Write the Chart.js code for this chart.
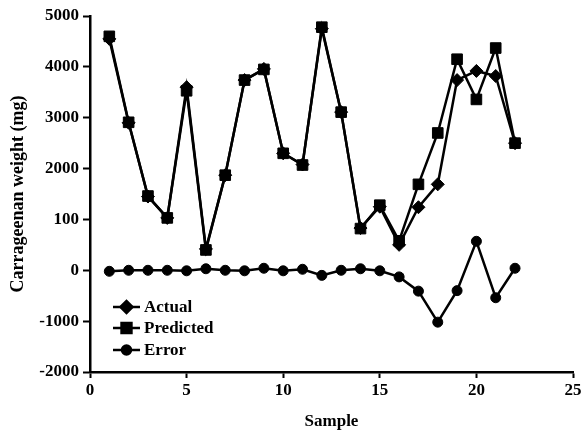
<!DOCTYPE html>
<html>
<head>
<meta charset="utf-8">
<script src="https://cdn.jsdelivr.net/npm/chart.js@4/dist/chart.umd.min.js"></script>
<style>
  body { margin: 0; background: #fff; }
</style>
</head>
<body>
<canvas id="chart" width="587" height="436"></canvas>
<script>
const samples = [1, 2, 3, 4, 5, 6, 7, 8, 9, 10, 11, 12, 13, 14, 15, 16, 17, 18, 19, 20, 21, 22];
const actual = [4550, 2900, 1450, 1030, 3600, 420, 1870, 3740, 3960, 2300, 2080, 4750, 3110, 830, 1250, 500, 1240, 1690, 3740, 3920, 3820, 2500];
const predicted = [4600, 2910, 1460, 1030, 3530, 400, 1870, 3740, 3950, 2300, 2070, 4780, 3110, 820, 1280, 580, 1690, 2700, 4150, 3360, 4370, 2500];
const error = [-20, 0, 0, 0, -10, 30, 0, -10, 40, -10, 20, -100, 0, 30, -10, -130, -410, -1020, -400, 570, -540, 40];

const yTickValues = [-2000, -1000, 0, 1000, 2000, 3000, 4000, 5000];
const yTickLabels = ["-2000", "-1000", "0", "100", "2000", "3000", "4000", "5000"];
const xTickLabels = ["0", "5", "10", "15", "20", "25"];

const FONT = "'Liberation Serif', 'Times New Roman', serif";

function points(values) {
    return samples.map((s, i) => ({ x: s, y: values[i] }));
}

const series = [
    { label: "Actual", data: points(actual), pointStyle: "rectRot", pointRadius: 6.5 },
    { label: "Predicted", data: points(predicted), pointStyle: "rect", pointRadius: 7.5 },
    { label: "Error", data: points(error), pointStyle: "circle", pointRadius: 5 }
];

// legend drawn inside the plot, lower left
const insideLegend = {
    id: "insideLegend",
    afterDraw(chart) {
        const ctx = chart.ctx;
        const area = chart.chartArea;
        const x0 = area.left + 23;
        const rows = [65, 44, 22];
        ctx.save();
        ctx.font = "bold 17px " + FONT;
        ctx.textBaseline = "middle";
        series.forEach((s, i) => {
            const y = area.bottom - rows[i];
            ctx.strokeStyle = "#000";
            ctx.lineWidth = 2.5;
            ctx.beginPath();
            ctx.moveTo(x0, y);
            ctx.lineTo(x0 + 27, y);
            ctx.stroke();
            ctx.fillStyle = "#000";
            Chart.helpers.drawPoint(ctx, {
                pointStyle: s.pointStyle,
                radius: s.pointRadius - 0.5,
                rotation: 0,
                borderWidth: 1
            }, x0 + 13.5, y);
            ctx.fillText(s.label, x0 + 31, y + 1);
        });
        ctx.restore();
    }
};

new Chart(document.getElementById("chart"), {
    type: "line",
    data: {
        datasets: series.map(s => ({
            label: s.label,
            data: s.data,
            borderColor: "#000",
            backgroundColor: "#000",
            borderWidth: 2.5,
            pointStyle: s.pointStyle,
            pointRadius: s.pointRadius,
            pointBorderWidth: 1,
            tension: 0
        }))
    },
    options: {
        responsive: false,
        animation: false,
        layout: { padding: { top: 16, right: 14, left: 0, bottom: 0 } },
        plugins: {
            legend: { display: false },
            tooltip: { enabled: false }
        },
        scales: {
            x: {
                type: "linear",
                min: 0,
                max: 25,
                afterFit: scale => { scale.height = 64; },
                afterBuildTicks: scale => {
                    scale.ticks = xTickLabels.map(t => ({ value: Number(t) }));
                },
                grid: {
                    drawOnChartArea: false,
                    drawTicks: true,
                    tickLength: 6,
                    tickWidth: 2,
                    tickColor: "#000"
                },
                border: { display: true, color: "#000", width: 2.5 },
                ticks: {
                    color: "#000",
                    padding: 2,
                    maxRotation: 0,
                    font: { family: FONT, size: 17, weight: "bold" },
                    callback: v => xTickLabels[xTickLabels.indexOf(String(v))]
                },
                title: {
                    display: true,
                    text: "Sample",
                    color: "#000",
                    padding: { top: 12 },
                    font: { family: FONT, size: 17, weight: "bold" }
                }
            },
            y: {
                min: -2000,
                max: 5000,
                afterFit: scale => { scale.width = 90; },
                afterBuildTicks: scale => {
                    scale.ticks = yTickValues.map(v => ({ value: v }));
                },
                grid: {
                    drawOnChartArea: false,
                    drawTicks: true,
                    tickLength: 7,
                    tickWidth: 2,
                    tickColor: "#000"
                },
                border: { display: true, color: "#000", width: 2.5 },
                ticks: {
                    color: "#000",
                    padding: 4,
                    font: { family: FONT, size: 17, weight: "bold" },
                    callback: v => yTickLabels[yTickValues.indexOf(v)]
                },
                title: {
                    display: true,
                    text: "Carrageenan weight (mg)",
                    color: "#000",
                    padding: { top: 8, bottom: 0 },
                    font: { family: FONT, size: 18, weight: "bold" }
                }
            }
        }
    },
    plugins: [insideLegend]
});
</script>
</body>
</html>
